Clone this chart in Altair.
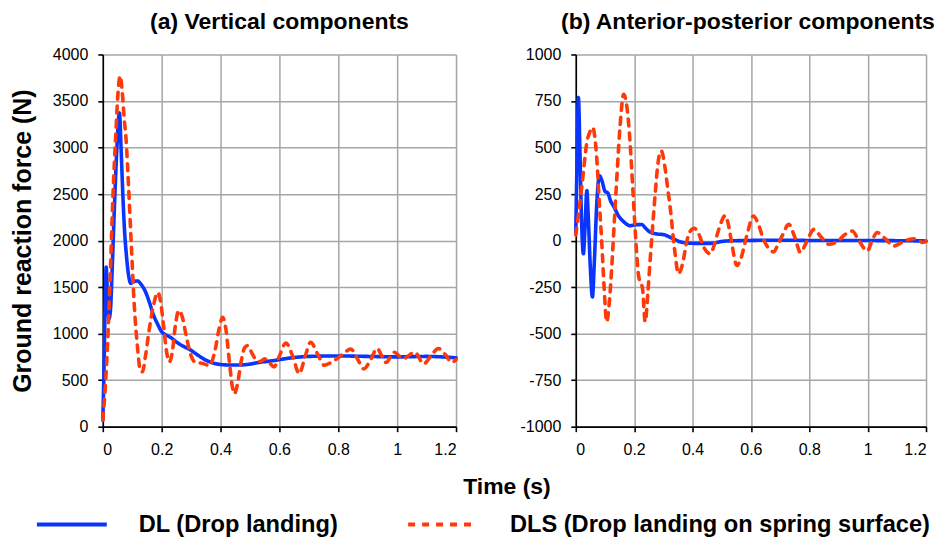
import altair as alt
import pandas as pd

FONT = "Liberation Sans"
BLUE = "#0a35ff"
RED = "#ff3a0a"
SERIES = ["DL (Drop landing)", "DLS (Drop landing on spring surface)"]

# (a) Vertical components
v_dl_t = [0.000, 0.004, 0.008, 0.0115, 0.016, 0.021, 0.026, 0.032, 0.040, 0.048, 0.0565, 0.062, 0.068,
          0.074, 0.080, 0.088, 0.095, 0.105, 0.118, 0.130, 0.145, 0.160, 0.172, 0.185, 0.200, 0.215,
          0.230, 0.250, 0.270, 0.295, 0.320, 0.350, 0.380, 0.410, 0.450, 0.490, 0.530, 0.580, 0.630,
          0.700, 0.800, 0.900, 1.000, 1.100, 1.200]
v_dl_f = [70, 600, 1300, 1715, 1400, 1160, 1250, 1700, 2400, 3000, 3370, 3000, 2500,
          2100, 1850, 1620, 1540, 1560, 1565, 1530, 1450, 1320, 1200, 1110, 1020, 985,
          960, 910, 870, 830, 775, 715, 680, 665, 662, 668, 690, 710, 735,
          755, 760, 755, 750, 755, 740]

v_dls_t = [0.000, 0.008, 0.017, 0.025, 0.034, 0.045, 0.052, 0.059, 0.066, 0.073, 0.079, 0.088, 0.096,
           0.107, 0.118, 0.128, 0.135, 0.145, 0.158, 0.172, 0.187, 0.196, 0.206, 0.216, 0.226, 0.236,
           0.247, 0.258, 0.270, 0.285, 0.300, 0.315, 0.340, 0.362, 0.380, 0.395, 0.407, 0.418, 0.430,
           0.440, 0.447, 0.457, 0.470, 0.482, 0.492, 0.505, 0.520, 0.535, 0.550, 0.565, 0.582, 0.600,
           0.622, 0.645, 0.667, 0.688, 0.706, 0.730, 0.752, 0.775, 0.795, 0.820, 0.842, 0.865, 0.887,
           0.910, 0.932, 0.948, 0.962, 0.990, 1.020, 1.060, 1.090, 1.115, 1.140, 1.165, 1.185, 1.200]
v_dls_f = [70, 400, 940, 1600, 2440, 3200, 3600, 3770, 3600, 3300, 3090, 2550, 2015,
           1300, 850, 600, 590, 760, 1050, 1300, 1443, 1350, 1100, 820, 695, 800,
           1100, 1247, 1180, 950, 760, 690, 680, 657, 800, 1050, 1175, 1050, 700,
           430, 354, 450, 700, 850, 871, 800, 720, 700, 730, 690, 643, 760,
           900, 760, 570, 760, 908, 780, 660, 690, 730, 790, 835, 730, 620,
           720, 840, 760, 690, 800, 730, 800, 675, 760, 840, 770, 690, 720]

# (b) Anterior-posterior components
ap_dl_t = [0.000, 0.004, 0.009, 0.014, 0.019, 0.026, 0.031, 0.038, 0.043, 0.050, 0.057, 0.064, 0.072,
           0.081, 0.090, 0.100, 0.110, 0.120, 0.129, 0.146, 0.165, 0.186, 0.205, 0.226, 0.240, 0.255,
           0.280, 0.300, 0.335, 0.363, 0.410, 0.460, 0.510, 0.570, 0.700, 0.850, 1.000, 1.200]
ap_dl_f = [45, 400, 768, 500, 150, -71, 50, 268, 120, -150, -303, -100, 200,
           348, 320, 265, 255, 210, 187, 134, 100, 80, 85, 86, 65, 45,
           35, 32, 9, -9, -15, -15, -3, 0, 2, 0, 0, -2]

ap_dls_t = [0.000, 0.010, 0.021, 0.038, 0.050, 0.058, 0.065, 0.072, 0.080, 0.089, 0.097, 0.106, 0.115,
            0.123, 0.132, 0.141, 0.152, 0.164, 0.175, 0.186, 0.195, 0.204, 0.215, 0.222, 0.228, 0.238,
            0.247, 0.255, 0.261, 0.272, 0.282, 0.293, 0.305, 0.315, 0.324, 0.338, 0.352, 0.365, 0.381,
            0.392, 0.406, 0.420, 0.440, 0.461, 0.475, 0.490, 0.512, 0.525, 0.535, 0.552, 0.565, 0.585,
            0.609, 0.625, 0.643, 0.660, 0.678, 0.693, 0.707, 0.730, 0.750, 0.770, 0.790, 0.816, 0.840,
            0.867, 0.900, 0.920, 0.947, 0.970, 0.999, 1.015, 1.033, 1.060, 1.090, 1.130, 1.160, 1.190, 1.200]
ap_dls_f = [30, 150, 295, 527, 590, 608, 560, 438, 220, -9, -250, -437, -330,
            -150, 100, 348, 620, 786, 720, 527, 290, 45, -187, -230, -250, -437,
            -280, -100, 27, 250, 420, 482, 400, 280, 170, -40, -178, -130, 0,
            50, 66, 40, -40, -71, -20, 60, 134, 70, -20, -134, -100, 20,
            132, 90, 7, -40, -61, -20, 25, 87, 20, -64, -10, 60, 20,
            -20, 0, 30, 51, 0, -56, 0, 43, 10, -29, 0, 10, -10, -5]

x_ticks = [0, 0.2, 0.4, 0.6, 0.8, 1, 1.2]
v_ticks = [0, 500, 1000, 1500, 2000, 2500, 3000, 3500, 4000]
ap_ticks = [-1000, -750, -500, -250, 0, 250, 500, 750, 1000]


def frame(t1, f1, t2, f2):
    return pd.concat([
        pd.DataFrame({"t": t1, "F": f1, "series": SERIES[0]}),
        pd.DataFrame({"t": t2, "F": f2, "series": SERIES[1]}),
    ], ignore_index=True)


df_v = frame(v_dl_t, v_dl_f, v_dls_t, v_dls_f)
df_ap = frame(ap_dl_t, ap_dl_f, ap_dls_t, ap_dls_f)

color_scale = alt.Scale(domain=SERIES, range=[BLUE, RED])
dash_scale = alt.Scale(domain=SERIES, range=[[1, 0], [7, 7]])

legend = alt.Legend(
    orient="none", legendX=-68, legendY=434, direction="horizontal",
    symbolType="stroke", symbolSize=4900, symbolStrokeWidth=4,
    labelFont=FONT, labelFontSize=23.7, labelFontWeight="bold", labelColor="black",
    labelOffset=30, columnPadding=62, labelLimit=700, padding=0,
)

x_axis_common = dict(values=x_ticks, format="~g", labelPadding=10)
y_label_expr = "'' + datum.value"

left = alt.Chart(df_v).mark_line(strokeWidth=3.6, interpolate="monotone", strokeCap="round").encode(
    x=alt.X("t:Q", scale=alt.Scale(domain=[0, 1.2], nice=False),
            axis=alt.Axis(title="Time (s)", titleX=404.5, titleY=67, titleBaseline="alphabetic",
                          titleFontSize=23, **x_axis_common)),
    y=alt.Y("F:Q", scale=alt.Scale(domain=[0, 4000], nice=False),
            axis=alt.Axis(values=v_ticks, labelExpr=y_label_expr, title="Ground reaction force (N)",
                          labelPadding=10, titlePadding=17, titleFontSize=25)),
    color=alt.Color("series:N", scale=color_scale, title=None, legend=legend),
    strokeDash=alt.StrokeDash("series:N", scale=dash_scale, title=None, legend=legend),
).properties(
    width=354, height=373,
    title=alt.TitleParams("(a) Vertical components", anchor="middle", frame="group", offset=13),
)

right = alt.Chart(df_ap).mark_line(strokeWidth=3.6, interpolate="monotone", strokeCap="round").encode(
    x=alt.X("t:Q", scale=alt.Scale(domain=[0, 1.2], nice=False),
            axis=alt.Axis(title=None, **x_axis_common)),
    y=alt.Y("F:Q", scale=alt.Scale(domain=[-1000, 1000], nice=False),
            axis=alt.Axis(values=ap_ticks, labelExpr=y_label_expr, title=None, labelPadding=10)),
    color=alt.Color("series:N", scale=color_scale, legend=None),
    strokeDash=alt.StrokeDash("series:N", scale=dash_scale, legend=None),
).properties(
    width=351, height=373,
    title=alt.TitleParams("(b) Anterior-posterior components", anchor="middle", frame="group",
                          dx=-3, offset=13),
)

chart = alt.hconcat(left, right, spacing=120, bounds="flush").resolve_scale(
    color="independent", strokeDash="independent"
).resolve_legend(color="independent", strokeDash="independent").properties(
    padding={"left": 2, "top": 2, "right": 0, "bottom": 0}
).configure_view(strokeWidth=0).configure_axis(
    labelFont=FONT, labelFontSize=16, labelColor="black",
    titleFont=FONT, titleFontSize=24, titleFontWeight="bold", titleColor="black",
    domainColor="black", domainWidth=1.6, tickColor="black", tickWidth=1.6, tickSize=5,
    gridColor="#a6a6a6", gridWidth=1.5,
).configure_title(
    font=FONT, fontSize=23, fontWeight="bold", color="black",
)

chart.save("out.html", embed_options={"renderer": "svg", "actions": False})
